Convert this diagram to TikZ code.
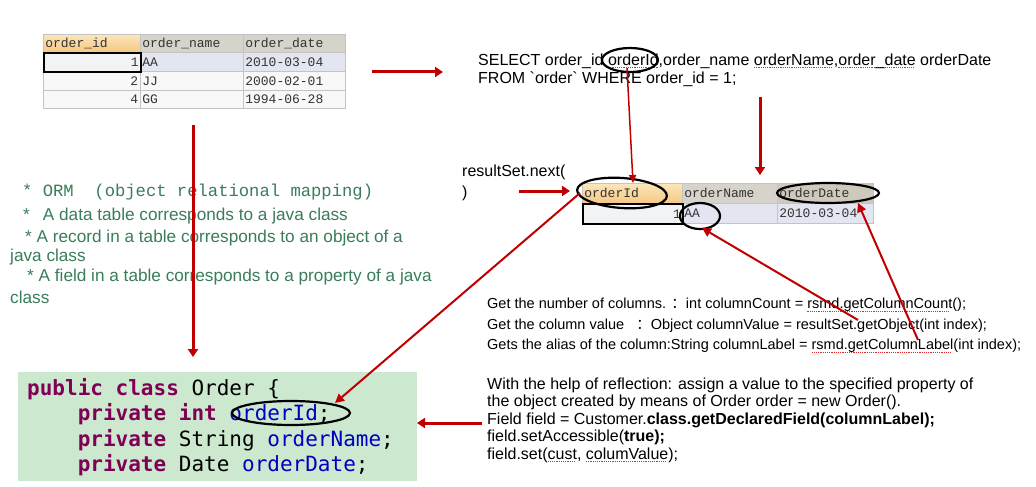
\documentclass[tikz,border=0pt]{standalone}
\usepackage{fontspec}
\usetikzlibrary{shapes.geometric,arrows.meta}
\setmainfont{Liberation Sans}
\newfontfamily\monofont{Liberation Mono}
\newfontfamily\codefont{DejaVu Sans Mono}
\newfontfamily\cjkfont{Noto Sans CJK SC}
\definecolor{arrowred}{RGB}{192,0,0}
\definecolor{ormgreen}{RGB}{58,125,90}
\definecolor{codebg}{RGB}{204,232,207}
\definecolor{kw}{RGB}{127,0,85}
\definecolor{ident}{RGB}{0,0,192}
\definecolor{hdrgray}{RGB}{214,211,202}
\definecolor{hdrgray2}{RGB}{205,201,188}
\definecolor{rowsel}{RGB}{227,230,240}
\definecolor{rowplain}{RGB}{248,248,248}
\definecolor{gridline}{RGB}{196,196,196}
\definecolor{orangeA}{RGB}{252,230,186}
\definecolor{orangeB}{RGB}{245,200,132}
\definecolor{spell}{RGB}{230,40,40}
\newsavebox\spellbox
\newcommand\spellul[1]{\sbox\spellbox{#1}\rlap{\color{spell}\leaders\hbox{\rule[-2.8pt]{1.2pt}{0.9pt}\hskip1pt}\hskip\wd\spellbox}\usebox\spellbox}
\begin{document}
\begin{tikzpicture}[x=1pt,y=-1pt,every node/.style={inner sep=0pt}]
\tikzset{
  cell/.style={anchor=north west, draw=gridline, line width=0.6pt, inner xsep=2pt, inner ysep=0pt,
    font=\monofont\fontsize{13}{15}\selectfont, text=black!80},
  hdrO/.style={top color=orangeA, bottom color=orangeB},
  selcell/.style={draw=black, line width=1.6pt},
  ring/.style={ellipse, draw=black, line width=2.2pt, inner sep=0pt},
  redarrow/.style={draw=arrowred, line width=3pt, -{Triangle[length=8pt,width=10pt]}},
  thinarrow/.style={draw=arrowred, line width=2pt, -{Triangle[length=9pt,width=9pt]}},
  hairarrow/.style={draw=arrowred, line width=1.5pt, -{Triangle[length=8pt,width=7pt]}},
  ormtext/.style={anchor=west, text=ormgreen, font=\fontsize{17.2}{20}\selectfont},
}
\useasboundingbox (0,0) rectangle (1036,487);
\fill[white] (0,0) rectangle (1036,487);

% ---------- table 1 ----------
\node[cell, hdrO, text width=93pt, minimum height=18pt, align=left] (t1a) at (43,34) {order\_id};
\node[cell, fill=hdrgray, text width=99pt, minimum height=18pt, align=left] (t1b) at (140,34) {order\_name};
\node[cell, fill=hdrgray, text width=98pt, minimum height=18pt, align=left] (t1c) at (243,34) {order\_date};
\node[cell, fill=rowsel, text width=99pt, minimum height=19pt, align=left] (t1r1b) at (140,52) {AA};
\node[cell, fill=rowsel, text width=98pt, minimum height=19pt, align=left] (t1r1c) at (243,52) {2010-03-04};
\node[cell, fill=rowplain, text width=93pt, minimum height=19pt, align=right] (t1r2a) at (43,71) {2};
\node[cell, fill=rowplain, text width=99pt, minimum height=19pt, align=left] (t1r2b) at (140,71) {JJ};
\node[cell, fill=rowplain, text width=98pt, minimum height=19pt, align=left] (t1r2c) at (243,71) {2000-02-01};
\node[cell, fill=rowplain, text width=93pt, minimum height=18pt, align=right] (t1r3a) at (43,90) {4};
\node[cell, fill=rowplain, text width=99pt, minimum height=18pt, align=left] (t1r3b) at (140,90) {GG};
\node[cell, fill=rowplain, text width=98pt, minimum height=18pt, align=left] (t1r3c) at (243,90) {1994-06-28};
\node[cell, selcell, fill=rowsel!85!gray!30, text width=93pt, minimum height=19pt, align=right] (t1r1a) at (43,52) {1};

% ---------- table 2 ----------
\node[cell, hdrO, text width=96pt, minimum height=20pt, align=left] (t2a) at (582,183) {orderId};
\node[cell, fill=hdrgray, text width=91pt, minimum height=20pt, align=left] (t2b) at (682,183) {orderName};
\node[cell, fill=hdrgray2, text width=92pt, minimum height=20pt, align=left] (t2c) at (777,183) {orderDate};
\node[cell, fill=rowsel, text width=91pt, minimum height=20pt, align=left] (t2r1b) at (682,203) {AA};
\node[cell, fill=rowsel, text width=92pt, minimum height=20pt, align=left] (t2r1c) at (777,203) {2010-03-04};
\node[cell, selcell, fill=rowsel!85!gray!30, text width=96pt, minimum height=20pt, align=right] (t2r1a) at (582,203) {1};

% ---------- SQL ----------
\node[anchor=west, align=left, font=\fontsize{16}{18}\selectfont] (sel) at (478,70)
  {SELECT order\_id \spellul{orderId},order\_name \spellul{orderName},\spellul{order\_date} orderDate\\
   FROM \textasciigrave order\textasciigrave{} WHERE order\_id = 1;};

\node[anchor=west, align=left, font=\fontsize{16}{21}\selectfont] (rs) at (462,182.5) {resultSet.next(\\)};

% ---------- ORM notes ----------
\node[ormtext, font=\monofont\fontsize{17.2}{20}\selectfont] (orm1) at (22,192) {* ORM\ \ (object relational mapping)};
\node[ormtext] (orm2) at (23,216) {*\hspace{13pt}A data table corresponds to a java class};
\node[ormtext] (orm3) at (25,238) {* A record in a table corresponds to an object of a};
\node[ormtext] (orm4) at (10,257) {java class};
\node[ormtext] (orm5) at (27,277) {* A field in a table corresponds to a property of a java};
\node[ormtext] (orm6) at (10,297) {class};

% ---------- middle text ----------
\node[anchor=west, align=left, font=\fontsize{14.5}{20.5}\selectfont] (mid) at (487,325.5)
  {Get the number of columns. {\cjkfont ：}int columnCount = \spellul{rsmd.getColumnCount}();\\
   Get the column value\ \ \ {\cjkfont ：}Object columnValue = resultSet.getObject(int index);\\
   Gets the alias of the column:String columnLabel = \spellul{rsmd.getColumnLabel}(int index);};

\node[anchor=west, align=left, font=\fontsize{16}{17.5}\selectfont] (bot) at (487,420)
  {With the help of reflection: assign a value to the specified property of\\
   the object created by means of Order order = new Order().\\
   Field field = Customer.\textbf{class.getDeclaredField(columnLabel);}\\
   field.setAccessible(\textbf{true);}\\
   field.set(\spellul{cust}, \spellul{columValue});};

% ---------- code ----------
\node[fill=codebg, minimum width=399pt, minimum height=109pt, anchor=north west] (codebox) at (18,372) {};
\node[anchor=west, align=left, font=\codefont\fontsize{21}{25.3}\selectfont] (code) at (27,427)
  {\textcolor{kw}{\bfseries public class} Order \{\\
   \hphantom{abcd}\textcolor{kw}{\bfseries private int} \textcolor{ident}{orderId};\\
   \hphantom{abcd}\textcolor{kw}{\bfseries private} String \textcolor{ident}{orderName};\\
   \hphantom{abcd}\textcolor{kw}{\bfseries private} Date \textcolor{ident}{orderDate};};

% ---------- ellipses ----------
\node[ring, minimum width=56pt, minimum height=24pt] (e1) at (630,60) {};
\node[ring, minimum width=90pt, minimum height=30pt, rotate=-4] (e2) at (622,193) {};
\node[ring, minimum width=40pt, minimum height=26pt] (e3) at (700,216) {};
\node[ring, minimum width=102pt, minimum height=20pt] (e4) at (828,193) {};
\node[ring, minimum width=118pt, minimum height=24pt] (e5) at (291,413) {};

% ---------- arrows ----------
\coordinate (a1s) at (372,72);  \coordinate (a1e) at (443,72);
\coordinate (a2s) at (193,125); \coordinate (a2e) at (193,357);
\coordinate (a3s) at (627,68);  \coordinate (a3e) at (633,183);
\coordinate (a4s) at (760,97);  \coordinate (a4e) at (760,175);
\coordinate (a5s) at (519,191); \coordinate (a5e) at (570,191);
\coordinate (a6s) at (580,193); \coordinate (a6e) at (335,403);
\coordinate (a7s) at (858,320); \coordinate (a7e) at (702,228);
\coordinate (a8s) at (918,340); \coordinate (a8e) at (858,203);
\coordinate (a9s) at (482,423); \coordinate (a9e) at (417,423);
\draw[redarrow] (a1s) -- (a1e);
\draw[redarrow] (a2s) -- (a2e);
\draw[hairarrow] (a3s) -- (a3e);
\draw[redarrow] (a4s) -- (a4e);
\draw[redarrow] (a5s) -- (a5e);
\draw[thinarrow] (a6s) -- (a6e);
\draw[thinarrow] (a7s) -- (a7e);
\draw[thinarrow] (a8s) -- (a8e);
\draw[redarrow] (a9s) -- (a9e);
\end{tikzpicture}
\end{document}
